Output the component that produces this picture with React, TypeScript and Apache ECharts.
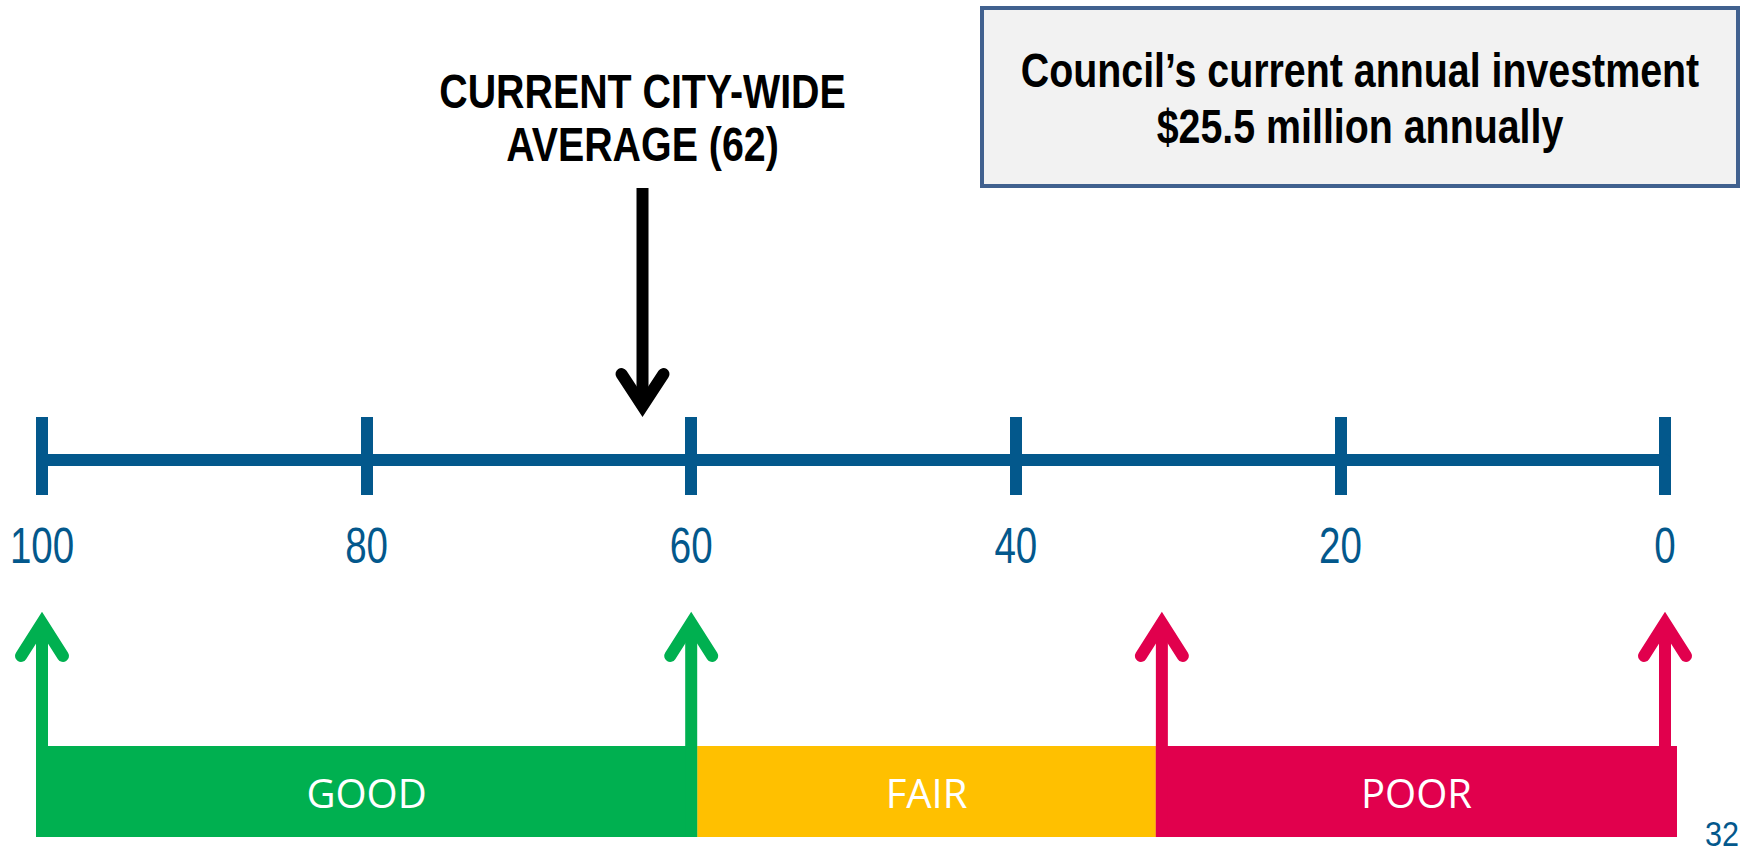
import React, { useEffect, useRef } from "react";
import * as echarts from "echarts";

// ---- data ----
const axisMin = 0;
const axisMax = 100;
const axisStep = 20;
const tickLabels = [100, 80, 60, 40, 20, 0];

const bandNames = ["GOOD", "FAIR", "POOR"];
const bandFrom = [100, 60, 31];
const bandTo = [60, 31, 0];
const bandColors = ["#00B050", "#FFC000", "#E1004D"];

const boundaryArrowValues = [100, 60, 31, 0];
const boundaryArrowColors = ["#00B050", "#00B050", "#E1004D", "#E1004D"];

const averageLabelLines = ["CURRENT CITY-WIDE", "AVERAGE (62)"];
const averageArrowValues = [63];

const investmentLines = ["Council\u2019s current annual investment", "$25.5 million annually"];
const pageNumber = "32";

// ---- styles ----
const BLUE = "#03588C";
const SANS = '"Liberation Sans", Arial, sans-serif';
const NARROW_SCALE = 0.82;

export default function App() {
  const ref = useRef<HTMLDivElement>(null);

  useEffect(() => {
    if (!ref.current) return;
    const chart = echarts.init(ref.current, undefined, { renderer: "svg" });

    const option: any = {
      animation: false,
      backgroundColor: "#ffffff",
      grid: { left: 42, right: 87, top: 417, height: 43, containLabel: false },
      xAxis: {
        type: "value",
        inverse: true,
        min: axisMin,
        max: axisMax,
        interval: axisStep,
        position: "bottom",
        axisLine: { show: true, onZero: false, lineStyle: { color: BLUE, width: 12 } },
        axisTick: { show: true, length: 35, lineStyle: { color: BLUE, width: 12 } },
        splitLine: { show: true, lineStyle: { color: BLUE, width: 12, type: "solid" } },
        axisLabel: { show: false },
      },
      yAxis: { type: "value", min: 0, max: 1, show: false },
      series: [
        {
          type: "custom",
          name: "tickLabels",
          clip: false,
          silent: true,
          data: tickLabels.map((v) => [v]),
          encode: { x: 0 },
          renderItem: (_params: any, api: any) => {
            const v = api.value(0);
            const x = api.coord([v, 0])[0];
            return {
              type: "text",
              x: x,
              y: 546,
              scaleX: 0.77,
              style: {
                text: String(v),
                fill: BLUE,
                fontSize: 50,
                fontFamily: SANS,
                align: "center",
                verticalAlign: "middle",
              },
            };
          },
        },
        {
          type: "custom",
          name: "bands",
          clip: false,
          silent: true,
          data: bandFrom.map((f, i) => [f, bandTo[i], i]),
          encode: { x: [0, 1] },
          renderItem: (_params: any, api: any) => {
            const i = api.value(2);
            const xa = api.coord([api.value(0), 0])[0];
            const xb = api.coord([api.value(1), 0])[0];
            const left = xa + (i === 1 ? 6 : -6);
            const right = xb + (i === 1 ? -6 : i === 2 ? 12 : 6);
            return {
              type: "group",
              children: [
                {
                  type: "rect",
                  shape: { x: left, y: 746, width: right - left, height: 91 },
                  style: { fill: bandColors[i] },
                },
                {
                  type: "text",
                  x: (left + right) / 2,
                  y: 792,
                  style: {
                    text: bandNames[i],
                    fill: "#ffffff",
                    fontSize: 40,
                    fontFamily: '"Open Sans", sans-serif',
                    align: "center",
                    verticalAlign: "middle",
                  },
                },
              ],
            };
          },
        },
        {
          type: "custom",
          name: "boundaryArrows",
          clip: false,
          silent: true,
          data: boundaryArrowValues.map((v, i) => [v, i]),
          encode: { x: 0 },
          renderItem: (_params: any, api: any) => {
            const x = api.coord([api.value(0), 0])[0];
            const c = boundaryArrowColors[api.value(1)];
            return {
              type: "group",
              children: [
                {
                  type: "line",
                  shape: { x1: x, y1: 837, x2: x, y2: 628 },
                  style: { stroke: c, lineWidth: 12 },
                },
                {
                  type: "polyline",
                  shape: { points: [[x - 21, 656], [x, 623], [x + 21, 656]] },
                  style: { stroke: c, lineWidth: 12, fill: null, lineCap: "round", lineJoin: "miter" },
                },
              ],
            };
          },
        },
        {
          type: "custom",
          name: "average",
          clip: false,
          silent: true,
          data: averageArrowValues.map((v) => [v]),
          encode: { x: 0 },
          renderItem: (_params: any, api: any) => {
            const x = api.coord([api.value(0), 0])[0];
            return {
              type: "group",
              children: [
                {
                  type: "line",
                  shape: { x1: x, y1: 188, x2: x, y2: 402 },
                  style: { stroke: "#000000", lineWidth: 12 },
                },
                {
                  type: "polyline",
                  shape: { points: [[x - 21, 374], [x, 406], [x + 21, 374]] },
                  style: { stroke: "#000000", lineWidth: 12, fill: null, lineCap: "round", lineJoin: "miter" },
                },
                {
                  type: "text",
                  x: x,
                  y: 118,
                  scaleX: NARROW_SCALE,
                  style: {
                    text: averageLabelLines.join("\n"),
                    fill: "#000000",
                    fontSize: 48,
                    fontWeight: "bold",
                    fontFamily: SANS,
                    lineHeight: 53,
                    align: "center",
                    verticalAlign: "middle",
                  },
                },
              ],
            };
          },
        },
      ],
      graphic: [
        {
          type: "rect",
          shape: { x: 982, y: 8, width: 756, height: 178 },
          style: { fill: "#F2F2F2", stroke: "#41618F", lineWidth: 4 },
          silent: true,
        },
        {
          type: "text",
          x: 1360,
          y: 98,
          scaleX: NARROW_SCALE,
          style: {
            text: investmentLines.join("\n"),
            fill: "#000000",
            fontSize: 48,
            fontWeight: "bold",
            fontFamily: SANS,
            lineHeight: 56,
            align: "center",
            verticalAlign: "middle",
          },
          silent: true,
        },
        {
          type: "text",
          x: 1722,
          y: 834,
          scaleX: 0.85,
          style: {
            text: pageNumber,
            fill: BLUE,
            fontSize: 36,
            fontFamily: SANS,
            align: "center",
            verticalAlign: "middle",
          },
          silent: true,
        },
      ],
    };

    chart.setOption(option);
    return () => {
      chart.dispose();
    };
  }, []);

  return (
    <div
      ref={ref}
      style={{ position: "fixed", left: 0, top: 0, width: 1752, height: 853, background: "#ffffff" }}
    />
  );
}
